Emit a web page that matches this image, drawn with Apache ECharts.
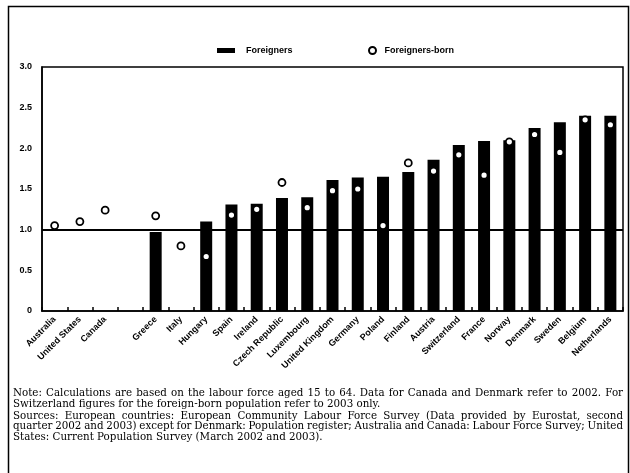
<!DOCTYPE html>
<html>
<head>
<meta charset="utf-8">
<script src="https://cdn.jsdelivr.net/npm/echarts@6/dist/echarts.min.js"></script>
<style>
    html, body { margin: 0; padding: 0; background: #fff; }
    #chart { width: 630px; height: 473px; }
</style>
</head>
<body>
<div id="chart"></div>
<script>
(function () {
    'use strict';

    // data
    var countries = ['Australia', 'United States', 'Canada', '', 'Greece', 'Italy', 'Hungary', 'Spain', 'Ireland',
        'Czech Republic', 'Luxembourg', 'United Kingdom', 'Germany', 'Poland', 'Finland', 'Austria',
        'Switzerland', 'France', 'Norway', 'Denmark', 'Sweden', 'Belgium', 'Netherlands'];
    var foreigners = [null, null, null, null, 0.97, null, 1.10, 1.31, 1.32, 1.39, 1.40, 1.61, 1.64, 1.65, 1.71, 1.86,
        2.04, 2.09, 2.10, 2.25, 2.32, 2.40, 2.40];
    var foreignBorn = [1.05, 1.10, 1.24, null, 1.17, 0.80, 0.67, 1.18, 1.25, 1.58, 1.27, 1.48, 1.50, 1.05, 1.82, 1.72,
        1.92, 1.67, 2.08, 2.17, 1.95, 2.35, 2.29];
    var yTickLabels = ['0', '0.5', '1.0', '1.5', '2.0', '2.5', '3.0'];
    var seriesNames = ['Foreigners', 'Foreigners-born'];
    var noteLines = [
        'Note: Calculations are based on the labour force aged 15 to 64. Data for Canada and Denmark refer to 2002. For',
        'Switzerland figures for the foreign-born population refer to 2003 only.',
        'Sources: European countries: European Community Labour Force Survey (Data provided by Eurostat, second',
        'quarter 2002 and 2003) except for Denmark: Population register; Australia and Canada: Labour Force Survey; United',
        'States: Current Population Survey (March 2002 and 2003).'
    ];
    var noteJustify = [true, false, true, true, false];

    var labelFont = '"Liberation Sans Narrow", "Liberation Sans", Arial, sans-serif';
    var noteFont = '"DejaVu Serif", serif';
    var noteSize = 10.3;

    // spread the words of a line over the full width, like the printed note
    var ctx = document.createElement('canvas').getContext('2d');
    ctx.font = noteSize + 'px ' + noteFont;
    function noteElements(text, y, justify) {
        var x0 = 13, x1 = 623;
        if (!justify) {
            return [{ type: 'text', x: x0, y: y, style: { text: text, font: noteSize + 'px ' + noteFont, fill: '#000' } }];
        }
        var words = text.split(' ');
        var total = 0;
        for (var i = 0; i < words.length; i++) total += ctx.measureText(words[i]).width;
        var gap = (x1 - x0 - total) / (words.length - 1);
        var els = [], x = x0;
        for (var j = 0; j < words.length; j++) {
            els.push({ type: 'text', x: x, y: y, style: { text: words[j], font: noteSize + 'px ' + noteFont, fill: '#000' } });
            x += ctx.measureText(words[j]).width + gap;
        }
        return els;
    }

    var graphics = [{
        type: 'rect',
        shape: { x: 8.5, y: 6.5, width: 620, height: 480 },
        style: { fill: 'none', stroke: '#000', lineWidth: 1.5 },
        silent: true
    }];
    var lineTop = [388, 399, 411, 421, 432];
    for (var n = 0; n < noteLines.length; n++) {
        graphics = graphics.concat(noteElements(noteLines[n], lineTop[n], noteJustify[n]));
    }

    var chart = echarts.init(document.getElementById('chart'), null, { renderer: 'canvas' });

    chart.setOption({
        animation: false,
        backgroundColor: '#fff',
        legend: [{
            data: [{ name: seriesNames[0], icon: 'rect' }],
            left: 212,
            top: 41,
            itemWidth: 18,
            itemHeight: 5,
            textStyle: { fontFamily: labelFont, fontWeight: 'bold', fontSize: 9, color: '#000', padding: [0, 0, 0, 6] }
        }, {
            data: [{ name: seriesNames[1], icon: 'circle' }],
            left: 363,
            top: 41,
            itemWidth: 14,
            itemHeight: 7,
            textStyle: { fontFamily: labelFont, fontWeight: 'bold', fontSize: 9, color: '#000' }
        }],
        grid: {
            left: 42,
            right: 7,
            top: 67,
            bottom: 162,
            show: true,
            borderColor: '#000',
            borderWidth: 1.5,
            containLabel: false
        },
        xAxis: {
            type: 'category',
            data: countries,
            boundaryGap: true,
            axisLine: { lineStyle: { color: '#000', width: 1.5 } },
            axisTick: { show: true, inside: true, length: 4, lineStyle: { color: '#000', width: 1.5 } },
            axisLabel: {
                interval: 0,
                rotate: 45,
                margin: 7,
                fontFamily: labelFont,
                fontWeight: 'bold',
                fontSize: 9,
                color: '#000'
            },
            splitLine: { show: false }
        },
        yAxis: {
            type: 'value',
            min: 0,
            max: 3,
            interval: 0.5,
            axisLine: { show: true, lineStyle: { color: '#000', width: 1.5 } },
            axisTick: { show: false },
            splitLine: { show: false },
            axisLabel: {
                margin: 10,
                fontFamily: labelFont,
                fontWeight: 'bold',
                fontSize: 9,
                color: '#000',
                formatter: function (v) { return yTickLabels[Math.round(v / 0.5)]; }
            }
        },
        series: [{
            name: seriesNames[0],
            type: 'bar',
            data: foreigners,
            barWidth: 12,
            itemStyle: { color: '#000' },
            markLine: {
                silent: true,
                symbol: ['none', 'none'],
                label: { show: false },
                lineStyle: { color: '#000', width: 2, type: 'solid' },
                data: [{ yAxis: 1 }]
            }
        }, {
            name: seriesNames[1],
            type: 'scatter',
            data: foreignBorn,
            symbol: 'circle',
            symbolSize: 7,
            itemStyle: { color: '#fff', borderColor: '#000', borderWidth: 1.8, opacity: 1 },
            z: 5
        }],
        graphic: graphics
    });
}());
</script>
</body>
</html>
